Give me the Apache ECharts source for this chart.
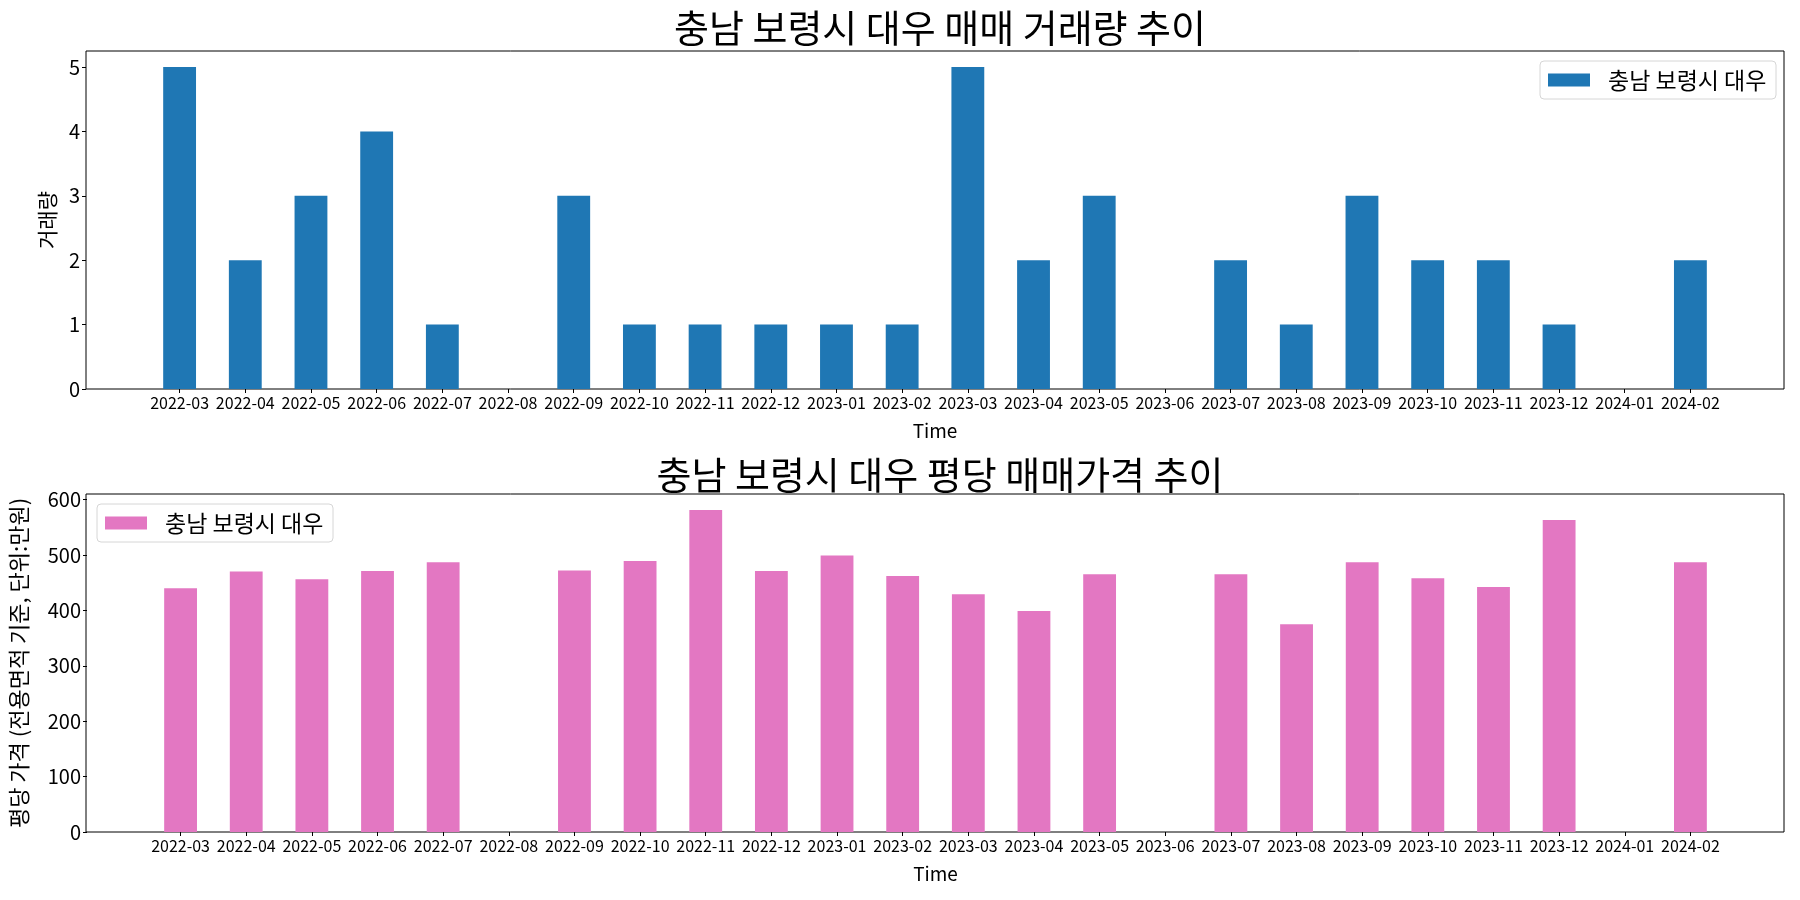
<!DOCTYPE html>
<html><head><meta charset="utf-8">
<script src="https://cdn.jsdelivr.net/npm/echarts@6/dist/echarts.min.js"></script>
<style>html,body{margin:0;padding:0;background:#fff}#c{width:1800px;height:900px}</style>
</head><body><div id="c"></div>
<script>
const categories = ['2022-03','2022-04','2022-05','2022-06','2022-07','2022-08','2022-09','2022-10','2022-11','2022-12','2023-01','2023-02','2023-03','2023-04','2023-05','2023-06','2023-07','2023-08','2023-09','2023-10','2023-11','2023-12','2024-01','2024-02'];
const volume = [5,2,3,4,1,0,3,1,1,1,1,1,5,2,3,0,2,1,3,2,2,1,0,2];
const price = [440,470,456,471,487,null,472,489,581,471,499,462,429,399,465,null,465,375,487,458,442,563,null,487];
const seriesName = '충남 보령시 대우';
const title1 = '충남 보령시 대우 매매 거래량 추이';
const title2 = '충남 보령시 대우 평당 매매가격 추이';
const yName1 = '거래량';
const yName2 = '평당 가격 (전용면적 기준, 단위:만원)';
const xName = 'Time';

const FONT = '"Noto Sans CJK KR", "Noto Sans", sans-serif';
const chart = echarts.init(document.getElementById('c'), null, {renderer:'canvas'});
const padL = 146.76, padR = 76.76, frameL = 86, frameR = 16, yOff = padL - frameL;
const tops = [51, 494], bottoms = [511, 68];
const frameCenter = (frameL + (1800 - frameR)) / 2;

function hiddenAxes(i){ return {show:false, gridIndex:i}; }
const xAxisBase = (gi) => ({
  type:'category', gridIndex:gi, data:categories, boundaryGap:true,
  axisLine:{show:false}, axisTick:{show:true, alignWithLabel:true, length:4, lineStyle:{color:'#000'}},
  axisLabel:{color:'#000', fontSize:16, fontFamily:FONT, margin:6, interval:0},
  splitLine:{show:false},
  name:xName, nameLocation:'middle', nameGap:32, nameTextStyle:{color:'#000', fontSize:19, fontFamily:FONT}
});
const legendBase = {
  itemWidth:42, itemHeight:13, padding:[7,8,7,8], borderColor:'#d6d6d6', borderWidth:1, borderRadius:4,
  backgroundColor:'rgba(255,255,255,0.8)', selectedMode:false, icon:'rect',
  textStyle:{fontSize:23, lineHeight:24, color:'#000', fontFamily:FONT, padding:[0,0,0,13], width:160}
};

chart.setOption({
  animation:false,
  backgroundColor:'#fff',
  textStyle:{fontFamily:FONT},
  title:[
    {text:title1, left:frameCenter, textAlign:'center', top:4, textStyle:{fontSize:38, fontWeight:'normal', color:'#000', fontFamily:FONT}},
    {text:title2, left:frameCenter, textAlign:'center', top:451, textStyle:{fontSize:38, fontWeight:'normal', color:'#000', fontFamily:FONT}}
  ],
  legend:[
    Object.assign({data:[seriesName], right:24, top:61}, legendBase),
    Object.assign({data:[{name:seriesName+' '}], left:97, top:504, formatter: n => n.trim()}, legendBase)
  ],
  grid:[
    {left:padL, right:padR, top:tops[0], bottom:bottoms[0]},
    {left:padL, right:padR, top:tops[1], bottom:bottoms[1]},
    {left:frameL, right:frameR, top:tops[0], bottom:bottoms[0], show:true, borderColor:'#000', borderWidth:1, backgroundColor:'transparent'},
    {left:frameL, right:frameR, top:tops[1], bottom:bottoms[1], show:true, borderColor:'#000', borderWidth:1, backgroundColor:'transparent'}
  ],
  xAxis:[ xAxisBase(0), xAxisBase(1), Object.assign({type:'value'}, hiddenAxes(2)), Object.assign({type:'value'}, hiddenAxes(3)) ],
  yAxis:[
    {type:'value', gridIndex:0, min:0, max:5.25, interval:1, offset:yOff,
     axisLine:{show:false}, axisTick:{show:true, length:4, lineStyle:{color:'#000'}},
     axisLabel:{color:'#000', fontSize:20, fontFamily:FONT, margin:6, showMaxLabel:false,
       formatter:v => Number.isInteger(v) ? String(v) : ''},
     splitLine:{show:false},
     name:yName1, nameLocation:'middle', nameGap:28, nameTextStyle:{color:'#000', fontSize:21, fontFamily:FONT}},
    {type:'value', gridIndex:1, min:0, max:610, interval:100, offset:yOff,
     axisLine:{show:false}, axisTick:{show:true, length:4, lineStyle:{color:'#000'}},
     axisLabel:{color:'#000', fontSize:20, fontFamily:FONT, margin:6, showMaxLabel:false,
       formatter:v => (v % 100 === 0) ? String(v) : ''},
     splitLine:{show:false},
     name:yName2, nameLocation:'middle', nameGap:57, nameTextStyle:{color:'#000', fontSize:22, fontFamily:FONT}},
    Object.assign({type:'value'}, hiddenAxes(2)), Object.assign({type:'value'}, hiddenAxes(3))
  ],
  series:[
    {name:seriesName, type:'bar', xAxisIndex:0, yAxisIndex:0, data:volume, barWidth:'50%', itemStyle:{color:'#1f77b4'}},
    {name:seriesName+' ', type:'bar', xAxisIndex:1, yAxisIndex:1, data:price, barWidth:'50%', itemStyle:{color:'#e377c2'}}
  ]
});
</script></body></html>
